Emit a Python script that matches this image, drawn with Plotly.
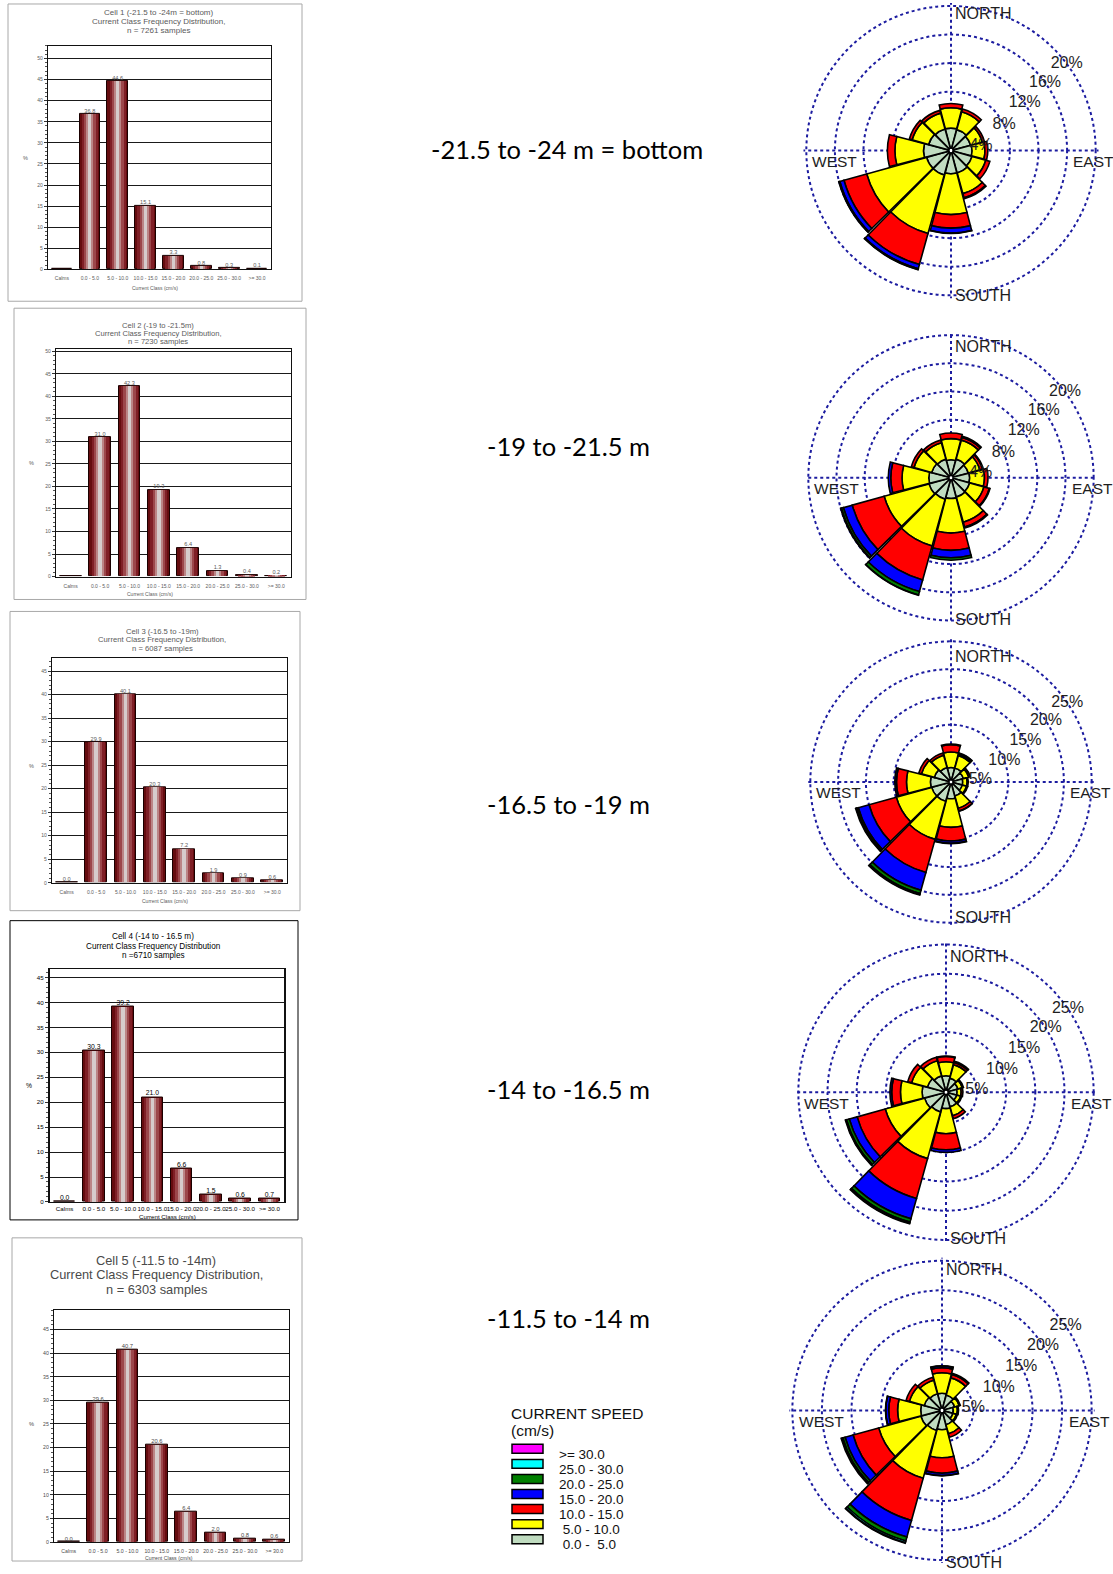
import plotly.graph_objects as go

PAGE_W, PAGE_H = 1113, 1574

# ---------------------------------------------------------------- data
speed_classes = ["Calms", "0.0 - 5.0", "5.0 - 10.0", "10.0 - 15.0",
                 "15.0 - 20.0", "20.0 - 25.0", "25.0 - 30.0", ">= 30.0"]

# frequency (%) of each current-speed class, per ADCP cell
cell1_freq = [0.0, 36.8, 44.6, 15.1, 3.3, 0.8, 0.3, 0.1]
cell2_freq = [0.0, 31.0, 42.3, 19.3, 6.4, 1.3, 0.4, 0.2]
cell3_freq = [0.0, 29.9, 40.1, 20.3, 7.2, 1.9, 0.9, 0.6]
cell4_freq = [0.0, 30.3, 39.2, 21.0, 6.6, 1.5, 0.6, 0.7]
cell5_freq = [0.0, 29.6, 40.7, 20.6, 6.4, 2.0, 0.8, 0.6]

cell_titles = [
    ["Cell 1 (-21.5 to -24m = bottom)", "Current Class Frequency Distribution,", "n = 7261 samples"],
    ["Cell 2 (-19 to -21.5m)", "Current Class Frequency Distribution,", "n = 7230 samples"],
    ["Cell 3 (-16.5 to -19m)", "Current Class Frequency Distribution,", "n = 6087 samples"],
    ["Cell 4 (-14 to - 16.5 m)", "Current Class Frequency Distribution", "n =6710 samples"],
    ["Cell 5 (-11.5 to -14m)", "Current Class Frequency Distribution,", "n = 6303 samples"],
]

depth_labels = ["-21.5 to -24 m = bottom", "-19 to -21.5 m", "-16.5 to -19 m",
                "-14 to -16.5 m", "-11.5 to -14 m"]

# direction sectors, degrees clockwise from north
directions = [0, 30, 60, 90, 120, 150, 180, 210, 240, 270, 300, 330]

# current rose: % of samples per sector and speed band (cm/s)
c1_0_5   = [2.9, 2.8, 2.6, 2.7, 2.8, 3.0, 3.0, 3.3, 3.3, 3.6, 3.0, 2.9]
c1_5_10  = [2.85, 2.6, 1.7, 1.8, 2.0, 3.0, 5.7, 8.5, 8.7, 4.0, 2.4, 2.3]
c1_10_15 = [0.6, 0.4, 0.3, 0.4, 0.6, 0.6, 1.9, 4.5, 3.3, 1.05, 0.4, 0.4]
c1_15_20 = [0.0, 0.0, 0.0, 0.0, 0.0, 0.15, 0.7, 0.6, 0.6, 0.0, 0.0, 0.0]
c1_20_25 = [0.0, 0.0, 0.0, 0.0, 0.0, 0.0, 0.05, 0.1, 0.1, 0.0, 0.0, 0.0]
c1_25_30 = [0.0, 0.0, 0.0, 0.0, 0.0, 0.0, 0.0, 0.05, 0.05, 0.0, 0.0, 0.0]
c1_30    = [0.0, 0.0, 0.0, 0.0, 0.0, 0.0, 0.0, 0.0, 0.0, 0.0, 0.0, 0.0]

c2_0_5   = [2.3, 2.5, 2.3, 2.4, 2.5, 2.6, 2.7, 2.9, 3.0, 2.9, 2.6, 2.5]
c2_5_10  = [3.0, 2.8, 1.7, 2.1, 2.1, 3.7, 4.9, 6.9, 6.6, 3.8, 2.6, 2.4]
c2_10_15 = [0.8, 0.4, 0.4, 0.5, 0.8, 0.7, 2.45, 5.0, 4.7, 1.6, 0.4, 0.4]
c2_15_20 = [0.0, 0.15, 0.1, 0.0, 0.1, 0.15, 1.05, 1.7, 1.3, 0.35, 0.0, 0.0]
c2_20_25 = [0.0, 0.0, 0.0, 0.0, 0.0, 0.0, 0.35, 0.5, 0.3, 0.0, 0.0, 0.0]
c2_25_30 = [0.0, 0.0, 0.0, 0.0, 0.0, 0.0, 0.0, 0.05, 0.05, 0.0, 0.0, 0.0]
c2_30    = [0.0, 0.0, 0.0, 0.0, 0.0, 0.0, 0.0, 0.0, 0.05, 0.0, 0.0, 0.0]

c3_0_5   = [2.3, 2.3, 2.0, 1.8, 1.8, 2.3, 2.7, 3.3, 3.3, 3.4, 2.8, 2.4]
c3_5_10  = [2.8, 2.3, 1.0, 0.8, 0.8, 2.3, 5.15, 7.1, 6.6, 4.3, 2.4, 2.3]
c3_10_15 = [1.3, 0.3, 0.3, 0.2, 0.2, 0.5, 2.45, 6.2, 5.1, 1.8, 0.5, 0.4]
c3_15_20 = [0.1, 0.2, 0.0, 0.0, 0.0, 0.05, 0.4, 3.3, 2.0, 0.3, 0.0, 0.0]
c3_20_25 = [0.0, 0.0, 0.0, 0.0, 0.0, 0.0, 0.1, 0.6, 0.3, 0.0, 0.0, 0.0]
c3_25_30 = [0.0, 0.0, 0.0, 0.0, 0.0, 0.0, 0.0, 0.2, 0.1, 0.0, 0.0, 0.0]
c3_30    = [0.0, 0.0, 0.0, 0.0, 0.0, 0.0, 0.0, 0.1, 0.1, 0.0, 0.0, 0.0]

c4_0_5   = [2.5, 2.2, 1.8, 1.6, 1.6, 2.3, 2.5, 3.2, 3.5, 3.8, 3.0, 2.6]
c4_5_10  = [2.4, 2.4, 0.8, 0.7, 0.7, 1.6, 4.3, 8.3, 7.0, 3.7, 2.8, 2.7]
c4_10_15 = [0.9, 0.4, 0.2, 0.3, 0.2, 0.5, 2.75, 7.1, 5.0, 1.5, 0.7, 0.6]
c4_15_20 = [0.1, 0.2, 0.0, 0.0, 0.0, 0.0, 0.45, 3.6, 1.4, 0.3, 0.0, 0.0]
c4_20_25 = [0.0, 0.0, 0.0, 0.0, 0.0, 0.0, 0.0, 0.6, 0.5, 0.0, 0.0, 0.0]
c4_25_30 = [0.0, 0.0, 0.0, 0.0, 0.0, 0.0, 0.0, 0.2, 0.1, 0.0, 0.0, 0.0]
c4_30    = [0.0, 0.0, 0.0, 0.0, 0.0, 0.0, 0.0, 0.1, 0.1, 0.0, 0.0, 0.0]

c5_0_5   = [2.6, 2.4, 1.9, 1.6, 1.6, 2.2, 2.95, 3.2, 3.4, 3.3, 2.8, 2.6]
c5_5_10  = [3.45, 3.0, 0.8, 0.7, 0.6, 1.6, 4.75, 8.4, 7.4, 3.9, 2.6, 2.4]
c5_10_15 = [0.85, 0.6, 0.2, 0.2, 0.2, 0.6, 2.6, 7.4, 4.5, 1.5, 0.6, 0.5]
c5_15_20 = [0.3, 0.2, 0.0, 0.0, 0.0, 0.0, 0.4, 2.9, 1.4, 0.5, 0.0, 0.0]
c5_20_25 = [0.05, 0.0, 0.0, 0.0, 0.0, 0.0, 0.05, 0.7, 0.4, 0.05, 0.0, 0.0]
c5_25_30 = [0.0, 0.0, 0.0, 0.0, 0.0, 0.0, 0.0, 0.3, 0.1, 0.0, 0.0, 0.0]
c5_30    = [0.0, 0.0, 0.0, 0.0, 0.0, 0.0, 0.0, 0.1, 0.2, 0.0, 0.0, 0.0]

rose_rings_a = [4, 8, 12, 16, 20]
rose_rings_b = [5, 10, 15, 20, 25]

legend_title = ["CURRENT SPEED", "(cm/s)"]
legend_labels = [">= 30.0", "25.0 - 30.0", "20.0 - 25.0", "15.0 - 20.0",
                 "10.0 - 15.0", " 5.0 - 10.0", " 0.0 -  5.0"]

# ---------------------------------------------------------------- styling
band_colors = ["#C0DCC0", "#FFFF00", "#FF0000", "#0000FF",
               "#008000", "#00FFFF", "#FF00FF"]          # 0-5 ... >=30
legend_colors = band_colors[::-1]

bar_boxes = [(8, 3, 302, 301), (14, 308, 306, 600), (10, 612, 300, 912),
             (10, 922, 298, 1222), (12, 1240, 302, 1564)]
bar_areas = [(48, 45, 271, 269), (56, 349, 291, 577), (52, 659, 287, 884),
             (50, 970, 284, 1204), (54, 1312, 289, 1545)]
bar_ymax = [53, 50.5, 47.7, 46.8, 49.2]
box_line = ["#a8a8a8", "#a8a8a8", "#a8a8a8", "#000000", "#a8a8a8"]
text_col = ["#5a5a5a", "#5a5a5a", "#5a5a5a", "#000000", "#4a4a4a"]
title_x = [158, 158, 162, 153, 156]
title_lines_y = [(12, 21, 30), (325, 333, 341), (632, 640, 649),
                 (938, 948, 957), (1263, 1277, 1292)]
title_size = [8.0, 7.6, 7.7, 8.2, 12.8]
tick_size = [5.0, 5.0, 5.0, 6.2, 5.2]
tick_standoff = [4, 4, 4, 1, 4]
xtitle_pos = [(155, 288), (150, 595), (165, 902), (167, 1219), (169, 1561)]
pct_pos = [(25, 157), (31, 463), (31, 767), (29, 1087), (31, 1427)]
show_calm_label = [False, False, True, True, True]
label_pos = [(567, 148), (568, 446), (568, 805), (568, 1091), (568, 1320)]

rose_centers = [(951, 150), (951, 478), (951, 783), (946, 1094), (942, 1413)]
rose_ring_px = [145, 143, 141, 148, 150]
north_off = [137, 132, 126, 136, 141]
south_off = [145, 142, 136, 147, 152]
ring_label_theta_a = [81.6, 64.4, 57.4, 54.1, 53.1]
ring_label_theta_b = [86.0, 68.7, 61.0, 57.3, 55.7]
GRID = "#1c1ca0"

# bar shading layers (relative width, colour) give the cylinder look
bar_layers = [(0.74, "#650c0f"), (0.58, "#7f1f26"), (0.42, "#9c474b"),
              (0.26, "#bb8586"), (0.12, "#d6cccc")]


def fx(x):
    return x / PAGE_W


def fy(y):
    return 1 - y / PAGE_H


def note(x, y, text, size, color="#111", family="Liberation Sans",
         xanchor="center", yanchor="middle"):
    return dict(x=fx(x), y=fy(y), xref="paper", yref="paper", text=text,
                showarrow=False, xanchor=xanchor, yanchor=yanchor,
                font=dict(size=size, color=color, family=family))


fig = go.Figure()
shapes, annotations = [], []
layout_axes = {}

freqs = [cell1_freq, cell2_freq, cell3_freq, cell4_freq, cell5_freq]

for i, freq in enumerate(freqs):
    n = i + 1
    xa = "x" if n == 1 else f"x{n}"
    ya = "y" if n == 1 else f"y{n}"
    for k, (w, col) in enumerate(bar_layers):
        fig.add_trace(go.Bar(
            x=speed_classes, y=freq, width=w, xaxis=xa, yaxis=ya,
            marker=dict(color=col,
                        line=dict(color="#1a0000" if k == 0 else col,
                                  width=1 if k == 0 else 0)),
            showlegend=False, hoverinfo="skip"))
    labels = [f"{v:.1f}" if (j > 0 or show_calm_label[i]) else ""
              for j, v in enumerate(freq)]
    fig.add_trace(go.Scatter(
        x=speed_classes, y=freq, text=labels, mode="text",
        textposition="top center", xaxis=xa, yaxis=ya,
        textfont=dict(size=tick_size[i] + 0.6, color=text_col[i],
                      family="Liberation Sans"),
        cliponaxis=False, showlegend=False, hoverinfo="skip"))

    x0, y0, x1, y1 = bar_areas[i]
    xkey = "xaxis" if n == 1 else f"xaxis{n}"
    ykey = "yaxis" if n == 1 else f"yaxis{n}"
    layout_axes[xkey] = dict(
        domain=[fx(x0), fx(x1)], anchor=ya, range=[-0.5, 7.5],
        showline=True, linecolor="#111", linewidth=1.2, mirror=True,
        showgrid=False, ticks="", ticklabelstandoff=tick_standoff[i],
        tickfont=dict(size=tick_size[i], color=text_col[i], family="Liberation Sans"),
        tickangle=0, fixedrange=True)
    layout_axes[ykey] = dict(
        domain=[fy(y1), fy(y0)], anchor=xa, range=[0, bar_ymax[i]],
        dtick=5, showline=True, linecolor="#111",
        linewidth=2 if n == 4 else 1.2, mirror=True,
        showgrid=True, gridcolor="#1a1a1a", gridwidth=1.1, zeroline=False,
        ticks="outside", ticklen=3, tickcolor="#333",
        minor=dict(dtick=1, ticks="outside", ticklen=2, tickcolor="#555"),
        tickfont=dict(size=tick_size[i], color=text_col[i], family="Liberation Sans"),
        fixedrange=True)

    bx0, by0, bx1, by1 = bar_boxes[i]
    shapes.append(dict(type="rect", xref="paper", yref="paper",
                       x0=fx(bx0), x1=fx(bx1), y0=fy(by1), y1=fy(by0),
                       line=dict(color=box_line[i], width=1), layer="below"))
    for line_text, ly in zip(cell_titles[i], title_lines_y[i]):
        annotations.append(note(title_x[i], ly, line_text, title_size[i], text_col[i]))
    ax_, ay_ = xtitle_pos[i]
    annotations.append(note(ax_, ay_, "Current Class (cm/s)", tick_size[i], text_col[i]))
    px_, py_ = pct_pos[i]
    annotations.append(note(px_, py_, "%", tick_size[i] + 0.5, text_col[i]))
    lx, ly = label_pos[i]
    annotations.append(note(lx, ly, depth_labels[i], 25.5, "#000", "Lato"))

# ---------------------------------------------------------------- roses
roses = [
    [c1_0_5, c1_5_10, c1_10_15, c1_15_20, c1_20_25, c1_25_30, c1_30],
    [c2_0_5, c2_5_10, c2_10_15, c2_15_20, c2_20_25, c2_25_30, c2_30],
    [c3_0_5, c3_5_10, c3_10_15, c3_15_20, c3_20_25, c3_25_30, c3_30],
    [c4_0_5, c4_5_10, c4_10_15, c4_15_20, c4_20_25, c4_25_30, c4_30],
    [c5_0_5, c5_5_10, c5_10_15, c5_15_20, c5_20_25, c5_25_30, c5_30],
]

for i, bands in enumerate(roses):
    n = i + 1
    sub = "polar" if n == 1 else f"polar{n}"
    rings = rose_rings_a if i < 2 else rose_rings_b
    ring_theta = ring_label_theta_a if i < 2 else ring_label_theta_b
    top = rings[-1]
    rmax = top * 1.02
    for vals, col in zip(bands, band_colors):
        fig.add_trace(go.Barpolar(
            r=vals, theta=directions, width=29, subplot=sub,
            marker=dict(color=col, line=dict(color="#000", width=1.6)),
            showlegend=False, hoverinfo="skip"))
    fig.add_trace(go.Scatterpolar(
        r=rings, theta=ring_theta, mode="text", subplot=sub,
        text=[f"{v}%" for v in rings],
        textfont=dict(size=16, color="#1e1e1e", family="Liberation Sans"),
        showlegend=False, hoverinfo="skip"))

    cx, cy = rose_centers[i]
    R = rose_ring_px[i]
    rd = R * rmax / top
    layout_axes[sub] = dict(
        domain=dict(x=[fx(cx - rd), fx(cx + rd)], y=[fy(cy + rd), fy(cy - rd)]),
        bgcolor="rgba(0,0,0,0)", barmode="stack", hole=0.012,
        radialaxis=dict(range=[0, rmax], tickvals=rings, showticklabels=False,
                        ticks="", showline=False, gridcolor=GRID, griddash="dot",
                        gridwidth=1.5, layer="below traces"),
        angularaxis=dict(rotation=90, direction="clockwise",
                         tickvals=[0, 90, 180, 270], showticklabels=False,
                         ticks="", showline=False, gridcolor=GRID,
                         griddash="dot", gridwidth=1.5, layer="below traces"))

    annotations += [
        note(cx + 2, cy - north_off[i], "NORTH", 16, "#1e1e1e", xanchor="left"),
        note(cx + 2, cy + south_off[i], "SOUTH", 16, "#1e1e1e", xanchor="left"),
        note(cx - 0.97 * R, cy + 11, "WEST", 15.5, "#1e1e1e", xanchor="left"),
        note(cx + 0.83 * R, cy + 11, "EAST", 15.5, "#1e1e1e", xanchor="left"),
    ]

# ---------------------------------------------------------------- legend
annotations.append(note(509, 1416, legend_title[0], 15.5, xanchor="left"))
annotations.append(note(509, 1433, legend_title[1], 15.5, xanchor="left"))
for k, (lab, col) in enumerate(zip(legend_labels, legend_colors)):
    top_y = 1447 + k * 15.1
    shapes.append(dict(type="rect", xref="paper", yref="paper",
                       x0=fx(512), x1=fx(543), y0=fy(top_y + 9), y1=fy(top_y),
                       fillcolor=col, line=dict(color="#000", width=1.5)))
    annotations.append(note(557, top_y + 10, lab, 13.5, xanchor="left"))

fig.update_layout(
    width=PAGE_W, height=PAGE_H, margin=dict(l=0, r=0, t=0, b=0),
    paper_bgcolor="white", plot_bgcolor="white", barmode="overlay",
    bargap=0, showlegend=False, shapes=shapes, annotations=annotations,
    **layout_axes)

fig.write_html("out.html")
